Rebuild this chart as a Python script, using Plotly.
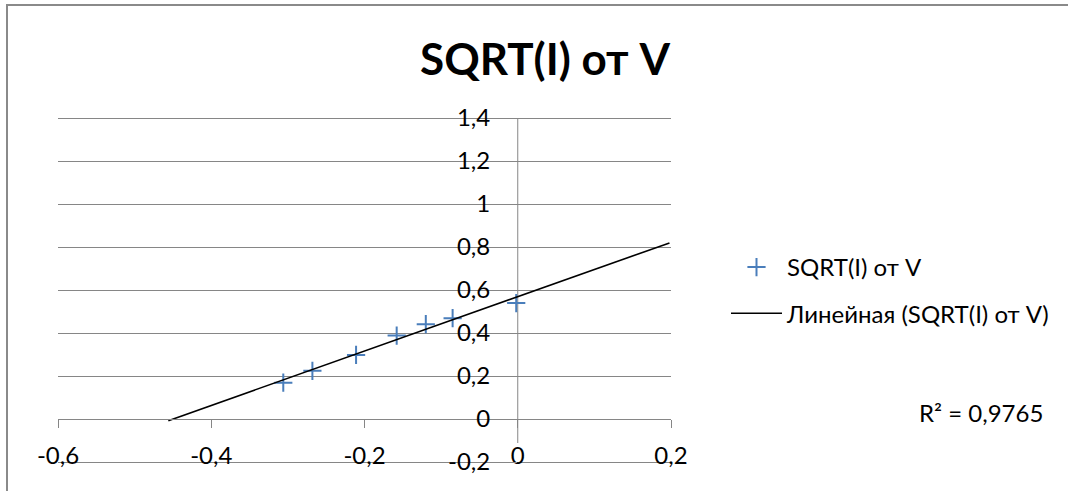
import numpy as np
import plotly.graph_objects as go

# Data
v_values = [-0.306, -0.268, -0.211, -0.158, -0.120, -0.085, -0.002]
sqrt_i_values = [0.169, 0.224, 0.298, 0.388, 0.441, 0.469, 0.539]

x_tick_vals = [-0.6, -0.4, -0.2, 0.0, 0.2]
x_tick_labels = ["-0,6", "-0,4", "-0,2", "0", "0,2"]
y_tick_vals = [-0.2, 0.0, 0.2, 0.4, 0.6, 0.8, 1.0, 1.2, 1.4]
y_tick_labels = ["-0,2", "0", "0,2", "0,4", "0,6", "0,8", "1", "1,2", "1,4"]

series_name = "SQRT(I) от V"
trend_name = "Линейная (SQRT(I) от V)"
r2_text = "R² = 0,9765"
title_text = "SQRT(I) от V"

# Excel-style linear trendline with forecast backward / forward
forecast_backward = 0.15
forecast_forward = 0.2
slope, intercept = np.polyfit(v_values, sqrt_i_values, 1)
trend_x = np.array([min(v_values) - forecast_backward, max(v_values) + forecast_forward])
trend_y = slope * trend_x + intercept

FONT = "Lato"
GRID = "#868686"
W, H = 1068, 491
PAD = 2  # extra px so edge gridlines are not clipped
ML, MR, MT, MB = 58, 397, 118 - PAD, 29 - PAD
PW = W - ML - MR
PH = H - MT - MB
K = 1.6 / (PH - 2 * PAD)  # data units per px
Y_LO, Y_HI = -0.2 - PAD * K, 1.4 + PAD * K

def px_x(p):
    return (p - ML) / PW

def px_y(q):
    return (H - MB - q) / PH

fig = go.Figure()
fig.add_trace(go.Scatter(
    x=v_values, y=sqrt_i_values, mode="markers", name=series_name,
    legendgroup="a",
    marker=dict(symbol="cross-thin", size=13, color="#4A7EBB",
                line=dict(color="#4A7EBB", width=2)),
))
fig.add_trace(go.Scatter(
    x=trend_x, y=trend_y, mode="lines", name=trend_name,
    legendgroup="b",
    line=dict(color="black", width=1.6),
))

fig.update_layout(
    width=W, height=H,
    margin=dict(l=ML, r=MR, t=MT, b=MB),
    paper_bgcolor="white", plot_bgcolor="white",
    font=dict(family=FONT, size=24, color="black"),
    title=dict(text="<b>" + title_text + "</b>", x=545 / W, xanchor="center",
               y=1 - 60 / H, yanchor="middle", yref="container",
               font=dict(family=FONT, size=44, color="black")),
    showlegend=True,
    legend=dict(x=px_x(726), xanchor="left", y=px_y(245), yanchor="top",
                traceorder="grouped", tracegroupgap=12,
                font=dict(family=FONT, size=24, color="black"),
                bgcolor="rgba(0,0,0,0)", itemwidth=51),
    xaxis=dict(range=[-0.6, 0.2], tickvals=x_tick_vals, ticktext=x_tick_labels,
               showgrid=False, zeroline=False,
               showline=True, linecolor=GRID, linewidth=1,
               anchor="free", position=px_y(419),
               ticks="outside", ticklen=8, tickcolor=GRID, tickwidth=1,
               ticklabelstandoff=7, tickfont=dict(family=FONT, size=24)),
    yaxis=dict(range=[Y_LO, Y_HI], tickvals=y_tick_vals, ticktext=y_tick_labels,
               showgrid=True, gridcolor=GRID, gridwidth=1,
               zeroline=True, zerolinecolor=GRID, zerolinewidth=1,
               showline=False,
               anchor="free", position=px_x(517),
               ticks="outside", ticklen=8, tickcolor=GRID, tickwidth=1,
               ticklabelstandoff=14, tickfont=dict(family=FONT, size=24)),
    annotations=[dict(text=r2_text, xref="paper", yref="paper",
                      x=px_x(981), y=px_y(412), xanchor="center", yanchor="middle",
                      showarrow=False, font=dict(family=FONT, size=24, color="black"))],
    shapes=[
        dict(type="rect", xref="paper", yref="paper",
             x0=px_x(7), x1=px_x(1080), y0=px_y(500), y1=px_y(5),
             line=dict(color="#8a8a8a", width=2), fillcolor="rgba(0,0,0,0)",
             layer="below"),
        # vertical value-axis line at x = 0 (stops above the category label)
        dict(type="line", xref="x", yref="paper",
             x0=0, x1=0, y0=px_y(443), y1=px_y(118),
             line=dict(color=GRID, width=1), layer="below"),
    ],
)

fig.write_html("out.html", config={"displayModeBar": False},
               post_script="document.body.style.margin='0px';")
